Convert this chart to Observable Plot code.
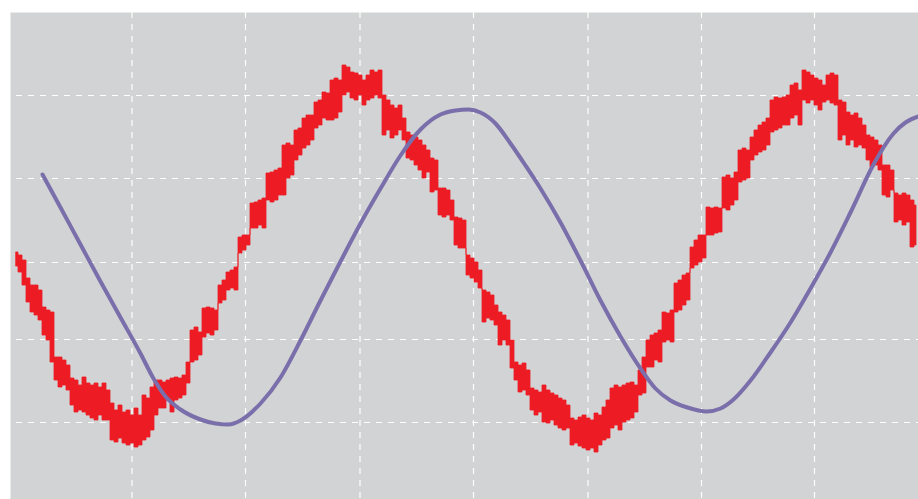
<!DOCTYPE html>
<html>
<head>
<meta charset="utf-8">
<script src="https://cdn.jsdelivr.net/npm/d3@7"></script>
<script src="https://cdn.jsdelivr.net/npm/@observablehq/plot@0.6"></script>
<style>
  html, body { margin: 0; padding: 0; background: #ffffff; }
  #chart svg { display: block; }
</style>
</head>
<body>
<div id="chart"></div>
<script>
// Noisy signal: sampled every 0.4 time units starting at t = 0.6 (upper / lower envelope of each sample)
const noisyStart = 0.6;
const noisyStep = 0.4;
const noisyHigh = [
  1.0, 0.7, 0.2, -1.6, -2.3, -2.3, -2.8, -4.5, -4.8, -5.0,
  -9.5, -9.5, -9.8, -10.3, -11.6, -11.8, -12.3, -11.5, -12.1, -12.3,
  -12.1, -12.5, -12.1, -12.8, -14.1, -14.8, -14.3, -15.0, -14.8, -15.3,
  -14.6, -15.3, -13.3, -13.6, -12.5, -11.8, -11.8, -12.0, -11.8, -11.6,
  -11.5, -11.6, -11.3, -10.0, -6.8, -6.5, -7.0, -4.6, -4.5, -4.6,
  -4.8, -2.3, -1.8, -1.0, -0.8, -0.5, 2.5, 2.7, 2.7, 5.9,
  6.0, 6.2, 6.4, 8.9, 9.0, 9.2, 9.4, 11.7, 11.9, 11.7,
  13.2, 13.4, 14.4, 14.7, 14.7, 16.0, 16.2, 17.0, 16.9, 18.2,
  18.4, 18.2, 19.7, 19.5, 19.0, 18.9, 18.7, 18.2, 18.7, 19.2,
  19.0, 19.2, 16.7, 16.2, 15.7, 15.4, 15.7, 14.4, 13.0, 12.7,
  12.5, 12.2, 11.7, 11.2, 10.4, 10.2, 7.4, 7.4, 7.2, 6.2,
  4.5, 4.4, 4.2, 0.7, 0.4, 0.0, -0.8, -2.8, -3.0, -3.3,
  -4.3, -5.0, -5.3, -5.8, -7.8, -10.0, -10.3, -10.1, -10.8, -12.6,
  -12.8, -13.0, -12.3, -12.8, -13.1, -13.3, -13.6, -13.8, -14.3, -15.6,
  -15.8, -15.5, -15.3, -15.6, -15.8, -15.1, -15.3, -14.5, -13.8, -12.6,
  -12.3, -12.5, -12.3, -12.1, -12.0, -12.3, -10.8, -9.5, -7.8, -7.3,
  -7.1, -6.8, -5.0, -5.1, -4.8, -2.1, -1.8, -1.3, -1.1, 1.5,
  2.2, 2.7, 2.7, 5.5, 5.4, 5.5, 5.4, 8.5, 8.7, 8.4,
  9.0, 11.2, 11.4, 11.2, 12.5, 13.2, 13.7, 14.0, 14.4, 16.2,
  16.5, 16.4, 16.5, 16.7, 17.7, 17.9, 17.2, 19.2, 19.0, 18.7,
  18.4, 18.2, 17.7, 18.7, 18.9, 18.7, 16.2, 16.0, 15.0, 14.7,
  14.9, 14.4, 13.7, 12.7, 12.5, 12.2, 11.7, 9.7, 9.7, 9.2,
  6.9, 6.7, 6.9, 6.7, 6.2, 5.7
];
const noisyLow = [
  -0.4, -1.0, -2.3, -4.0, -5.0, -5.3, -5.8, -7.3, -7.8, -10.0,
  -11.8, -12.5, -12.3, -12.8, -14.3, -15.0, -14.8, -15.0, -15.3, -15.6,
  -15.8, -15.3, -15.8, -15.8, -17.8, -18.0, -17.6, -18.1, -18.3, -18.1,
  -18.5, -18.3, -17.8, -17.5, -16.8, -15.3, -14.6, -14.6, -13.8, -15.0,
  -13.8, -13.6, -13.3, -12.1, -10.0, -9.8, -9.3, -7.5, -7.1, -7.3,
  -6.8, -4.1, -3.8, -2.8, -2.6, -2.8, 0.9, 1.2, 1.7, 3.4,
  3.4, 3.7, 3.4, 6.2, 6.0, 6.2, 6.7, 6.7, 8.4, 8.7,
  10.2, 10.7, 11.4, 11.7, 12.2, 13.4, 13.7, 14.4, 14.2, 14.2,
  14.4, 15.0, 16.7, 17.0, 16.4, 16.2, 16.7, 15.7, 16.2, 16.4,
  16.7, 16.4, 12.7, 13.2, 12.4, 12.7, 13.2, 12.2, 10.4, 10.2,
  9.7, 9.2, 8.4, 9.0, 7.0, 7.2, 4.7, 4.5, 4.7, 4.2,
  1.7, 1.4, 1.4, -1.3, -1.6, -2.0, -2.6, -6.0, -5.6, -5.8,
  -6.3, -8.3, -7.8, -8.3, -10.6, -11.8, -13.0, -12.8, -13.3, -14.8,
  -15.3, -15.0, -16.0, -16.1, -15.8, -16.3, -16.6, -16.8, -16.6, -18.3,
  -18.1, -18.4, -18.6, -18.8, -18.6, -19.0, -18.3, -17.8, -17.6, -16.6,
  -16.3, -16.8, -16.0, -15.8, -15.6, -15.0, -13.3, -13.1, -10.5, -10.5,
  -9.8, -10.0, -8.0, -7.8, -8.0, -5.0, -4.8, -4.3, -3.8, -0.6,
  -0.3, 0.0, 0.4, 2.7, 2.7, 2.9, 3.0, 5.4, 5.2, 5.7,
  6.2, 8.0, 8.2, 8.4, 10.2, 10.7, 11.0, 11.2, 11.7, 13.0,
  13.2, 13.4, 13.7, 13.7, 14.4, 14.7, 13.7, 16.2, 15.9, 16.2,
  15.7, 15.2, 16.0, 16.2, 15.9, 15.7, 12.2, 12.7, 11.7, 12.2,
  11.5, 11.7, 11.4, 10.2, 9.5, 9.7, 9.2, 6.7, 6.5, 7.2,
  4.0, 4.2, 3.7, 4.0, 1.5, 1.7
];

// Smooth signal
const smoothT = [3.2, 5.0, 7.0, 9.0, 11.0, 13.0, 14.3, 15.5, 17.0, 19.0, 20.5, 21.8, 23.0, 25.0, 27.0, 29.0, 31.0, 33.0, 35.0, 37.0, 39.0, 41.0, 43.0, 44.5, 45.8, 47.0, 48.5, 50.0, 51.5, 53.0, 55.0, 57.0, 59.0, 61.0, 63.0, 64.5, 66.0, 67.7, 69.6, 71.0, 72.3, 74.0, 76.0, 78.0, 80.0, 82.0, 84.0, 86.3, 88.3, 89.5, 90.8];
const smoothV = [8.8, 5.5, 1.8, -1.9, -5.5, -9.1, -11.6, -13.4, -14.7, -15.7, -16.1, -16.2, -15.8, -14.1, -11.5, -7.8, -3.8, 0.1, 3.9, 7.4, 10.7, 13.3, 14.8, 15.2, 15.3, 15.0, 13.9, 11.9, 9.7, 7.4, 4.0, 0.2, -3.8, -7.4, -10.6, -12.6, -13.8, -14.5, -14.9, -14.6, -13.7, -11.8, -9.0, -6.0, -2.6, 1.0, 5.0, 9.8, 12.9, 14.0, 14.6];

// Grid positions
const gridXTicks = [12.15, 23.5, 34.95, 46.3, 57.75, 69.1, 80.4];
const gridYTicks = [16.7, 8.4, 0.0, -7.7, -16.0];

const noisy = noisyHigh.map((h, i) => ({t: noisyStart + i * noisyStep, hi: h, lo: noisyLow[i]}));
const smooth = smoothT.map((t, i) => ({t, v: smoothV[i]}));

const chart = Plot.plot({
  width: 918,
  height: 499,
  marginLeft: 10,
  marginRight: 0,
  marginTop: 12,
  marginBottom: 0,
  x: {domain: [0, 90.8], axis: null},
  y: {domain: [-23.7, 25.0], axis: null},
  marks: [
    Plot.frame({fill: "#d1d3d4", stroke: null}),
    Plot.ruleY(gridYTicks, {stroke: "#ffffff", strokeWidth: 1.2, strokeDasharray: "6,6", strokeDashoffset: 6}),
    Plot.ruleX(gridXTicks, {stroke: "#ffffff", strokeWidth: 1.2, strokeDasharray: "6,6"}),
    Plot.areaY(noisy, {x: "t", y1: "lo", y2: "hi", curve: "step", fill: "#ed1c24", stroke: "#ed1c24", strokeWidth: 0.8}),
    Plot.line(smooth, {x: "t", y: "v", curve: "monotone-x", stroke: "#7a6fab", strokeWidth: 4})
  ]
});
document.getElementById("chart").append(chart);
</script>
</body>
</html>
